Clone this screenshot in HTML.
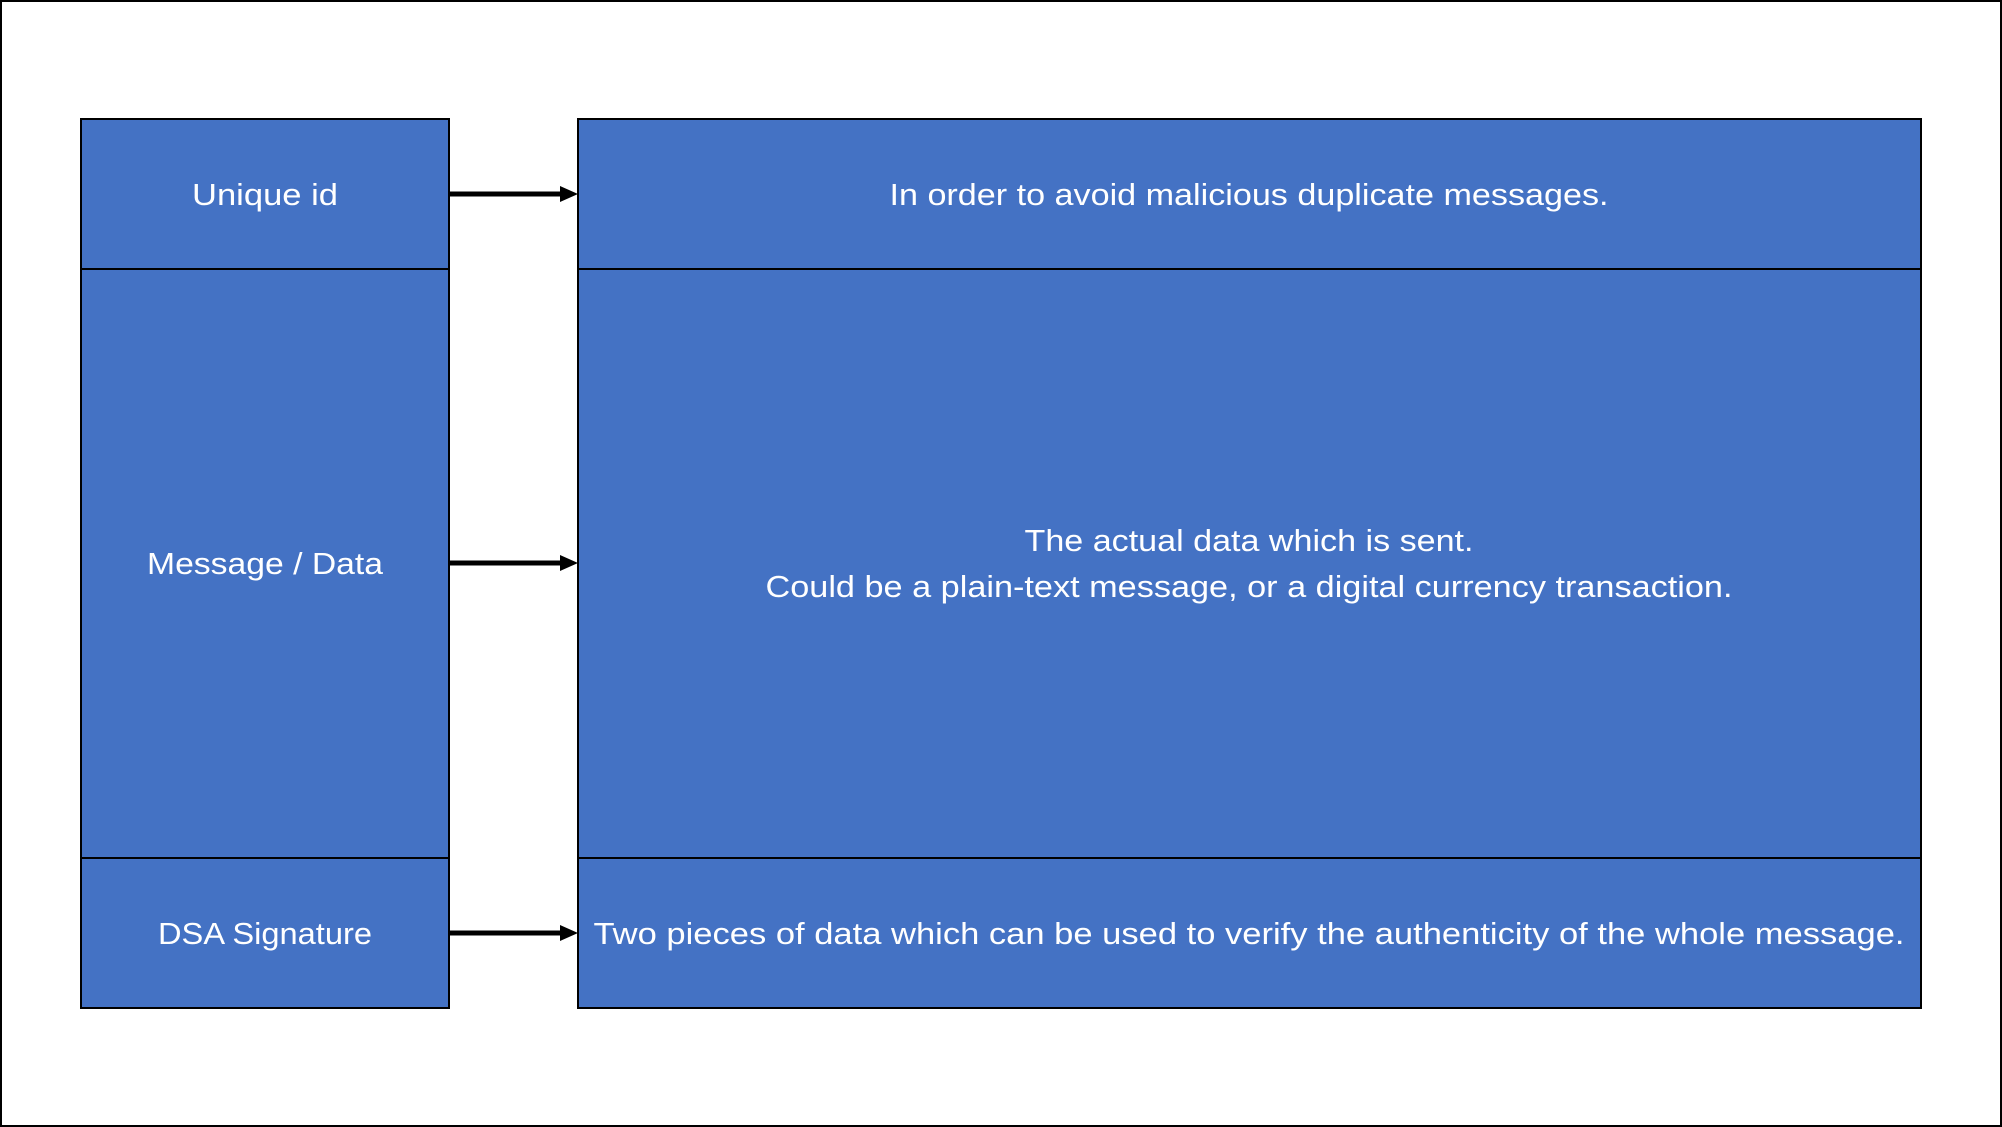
<!DOCTYPE html>
<html><head><meta charset="utf-8"><style>
html,body{margin:0;padding:0;background:#fff;}
svg{display:block;}
text{font-family:"Liberation Sans",sans-serif;fill:#fff;font-size:31px;}
</style></head><body>
<svg width="2002" height="1127" viewBox="0 0 2002 1127" xmlns="http://www.w3.org/2000/svg">
<rect x="1" y="1" width="2000" height="1125" fill="#fff" stroke="#000" stroke-width="2"/>
<g fill="#4472c4" stroke="#000" stroke-width="2">
<rect x="81" y="119" width="368" height="150"/>
<rect x="81" y="269" width="368" height="589"/>
<rect x="81" y="858" width="368" height="150"/>
<rect x="578" y="119" width="1343" height="150"/>
<rect x="578" y="269" width="1343" height="589"/>
<rect x="578" y="858" width="1343" height="150"/>
</g>
<g stroke="#000" stroke-width="5">
<line x1="449" y1="194" x2="562" y2="194"/>
<line x1="449" y1="563" x2="562" y2="563"/>
<line x1="449" y1="933" x2="562" y2="933"/>
</g>
<g fill="#000">
<polygon points="560,186 578,194 560,202"/>
<polygon points="560,555 578,563 560,571"/>
<polygon points="560,925 578,933 560,941"/>
</g>
<g text-anchor="middle">
<text x="265" y="205" textLength="146" lengthAdjust="spacingAndGlyphs">Unique id</text>
<text x="265" y="574" textLength="236" lengthAdjust="spacingAndGlyphs">Message / Data</text>
<text x="265" y="944" textLength="214" lengthAdjust="spacingAndGlyphs">DSA Signature</text>
<text x="1249" y="205" textLength="719" lengthAdjust="spacingAndGlyphs">In order to avoid malicious duplicate messages.</text>
<text x="1249" y="551" textLength="449" lengthAdjust="spacingAndGlyphs">The actual data which is sent.</text>
<text x="1249" y="597" textLength="967" lengthAdjust="spacingAndGlyphs">Could be a plain-text message, or a digital currency transaction.</text>
<text x="1249" y="944" textLength="1311" lengthAdjust="spacingAndGlyphs">Two pieces of data which can be used to verify the authenticity of the whole message.</text>
</g>
</svg>
</body></html>
